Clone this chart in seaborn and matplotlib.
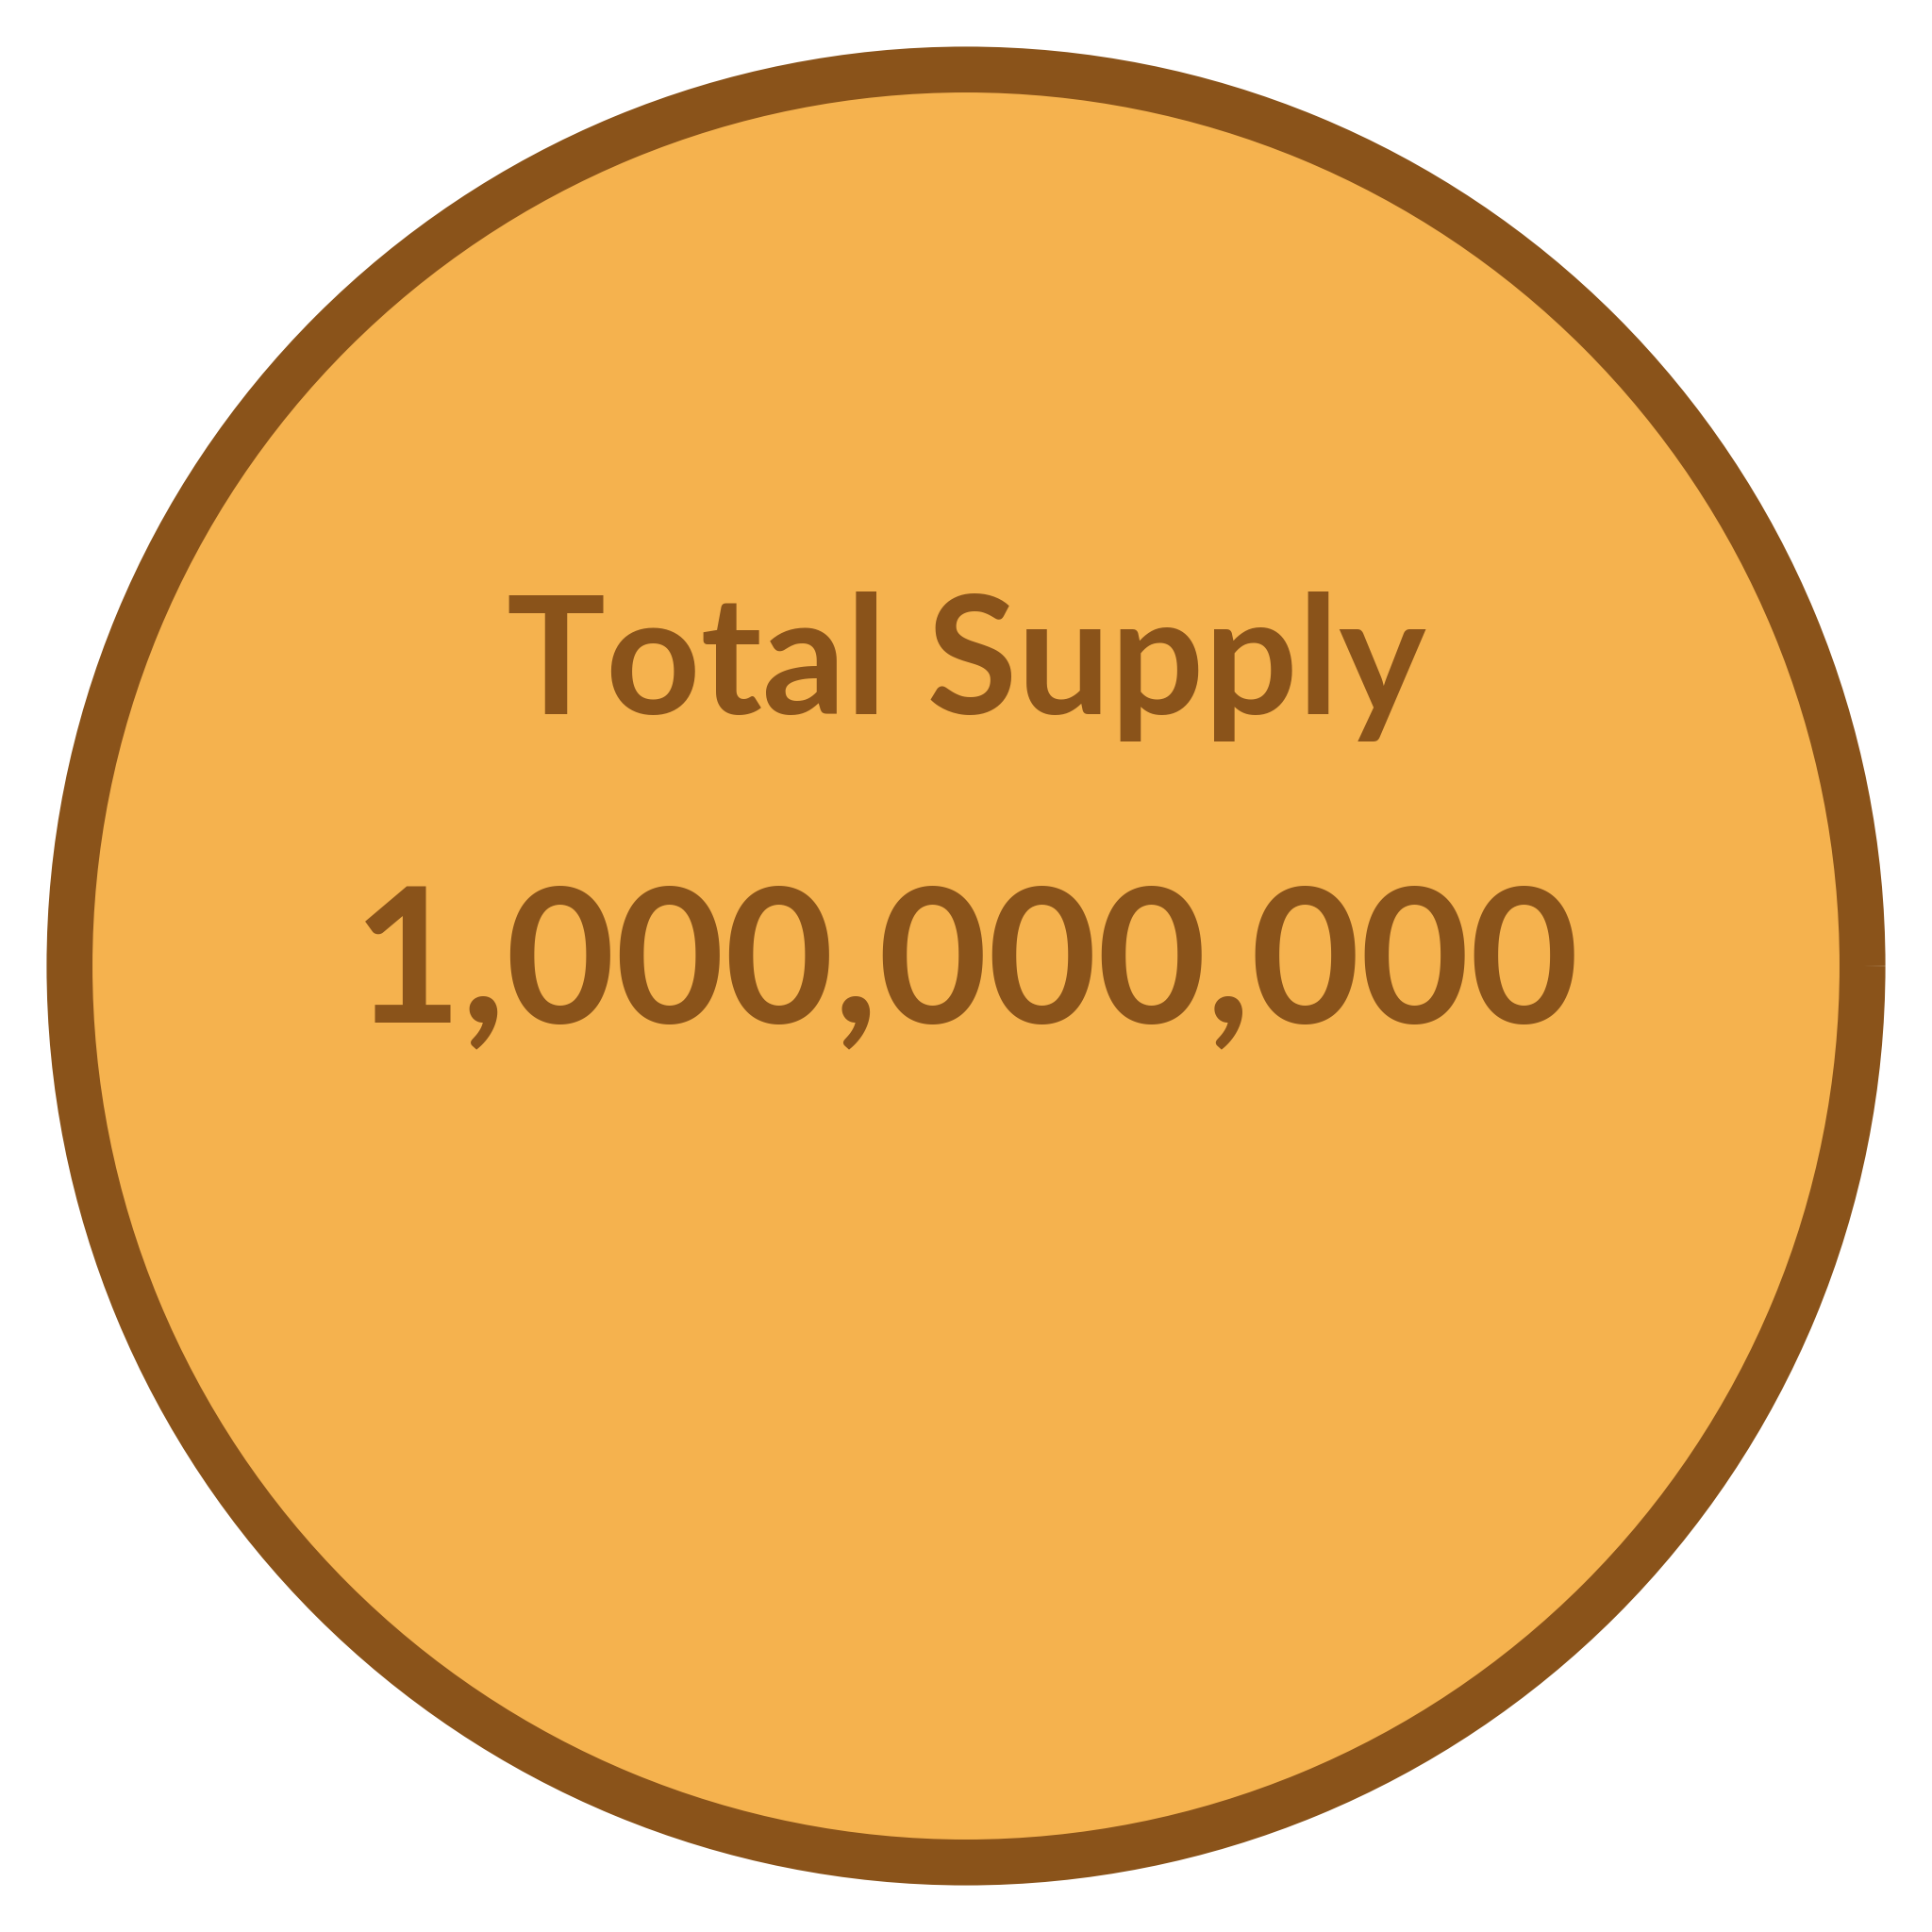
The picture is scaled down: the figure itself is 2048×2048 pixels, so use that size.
import matplotlib.pyplot as plt
import seaborn as sns

# single-slice "coin" showing the total supply
labels = ["Total Supply"]
values = [1_000_000_000]

FILL = "#F5B24E"
EDGE = "#8A531A"

sns.set_theme(style="white")
plt.rcParams["font.family"] = ["Lato", "DejaVu Sans"]

fig = plt.figure(figsize=(10.24, 10.24), dpi=200)
ax = fig.add_axes([0, 0, 1, 1])
ax.pie(
    values,
    colors=[FILL],
    radius=0.928,
    startangle=90,
    wedgeprops=dict(edgecolor=EDGE, linewidth=17.5),
)
ax.set_xlim(-1, 1)
ax.set_ylim(-1, 1)
ax.set_aspect("equal")
ax.axis("off")

ax.text(0, 0.31, labels[0], ha="center", va="center",
        fontsize=63, fontweight="bold", color=EDGE)
ax.text(0, -0.002, f"{values[0]:,}", ha="center", va="center",
        fontsize=72, fontweight="bold", color=EDGE)

fig.savefig("out.png", dpi=200, facecolor="white")
plt.close(fig)
